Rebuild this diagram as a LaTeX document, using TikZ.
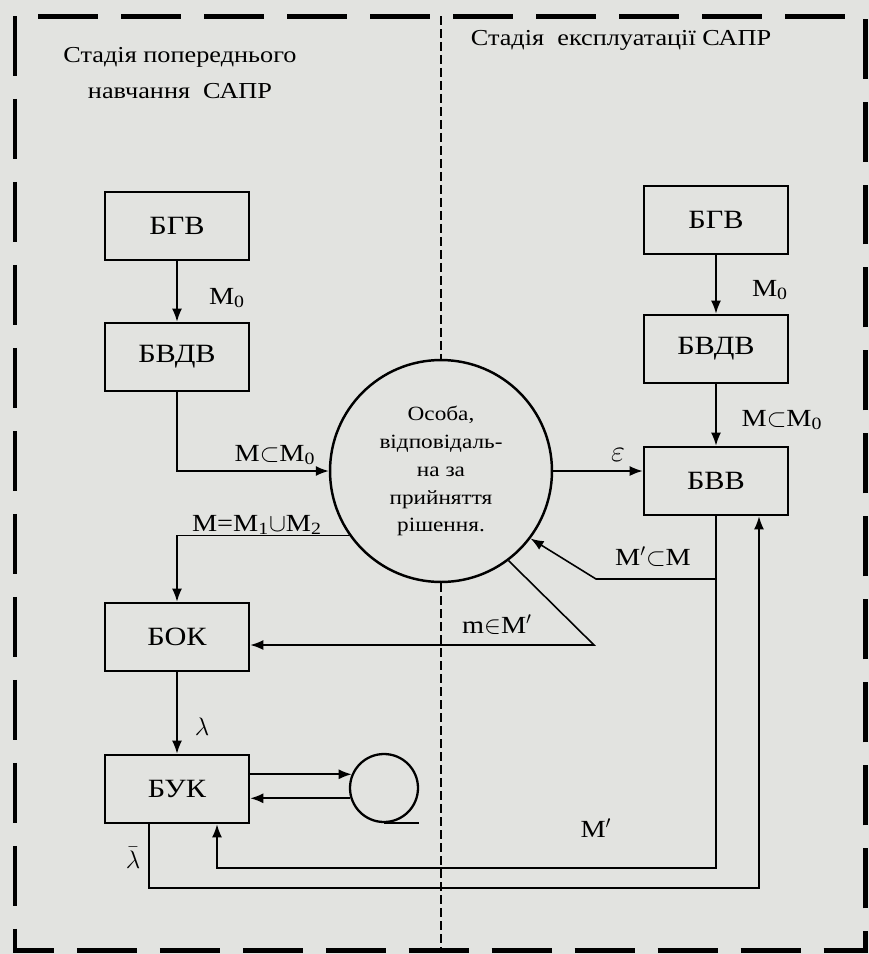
\documentclass[tikz,border=0pt]{standalone}
\usepackage{fontspec}
\setmainfont[FakeStretch=1.15]{Liberation Serif}
\usetikzlibrary{arrows.meta}
\definecolor{paper}{RGB}{226,227,224}

\begin{document}
\begin{tikzpicture}[x=0.02cm,y=-0.02cm,
  blok/.style={draw,line width=1.5pt,minimum width=2.88cm,minimum height=1.36cm,inner sep=0pt,font=\fontsize{15}{17}\selectfont},
  osoba/.style={draw,circle,line width=1.4pt,minimum size=4.44cm,inner sep=0pt,align=center,font=\fontsize{11.5}{15.9}\selectfont},
  petlya/.style={draw,circle,line width=1.3pt,minimum size=1.36cm,inner sep=0pt},
  title/.style={align=center,font=\fontsize{13}{21}\selectfont},
  lab/.style={inner sep=1pt,font=\fontsize{14}{16}\selectfont},
  arr/.style={line width=0.9pt,-{Latex[length=0.26cm,width=0.2cm]}},
  lin/.style={line width=0.9pt},
  ramka/.style={line width=0.1cm,dash pattern=on 1.2cm off 0.46cm},
  midline/.style={line width=0.7pt,dash pattern=on 0.18cm off 0.08cm}]
\fill[paper] (0,0) rectangle (869,954);
\draw[ramka] (15,16) rectangle (865,950);

\node[title] (tleft) at (180,73) {Стадія попереднього\\навчання\ \ САПР};
\node[title] (tright) at (621,40) {Стадія\ \ експлуатації САПР};

% left column
\node[blok] (bgv1) at (177,226) {БГВ};
\node[blok] (bvdv1) at (177,357) {БВДВ};
\node[blok] (bok) at (177,637) {БОК};
\node[blok] (buk) at (177,789) {БУК};
% right column
\node[blok] (bgv2) at (716,220) {БГВ};
\node[blok] (bvdv2) at (716,349) {БВДВ};
\node[blok] (bvv) at (716,481) {БВВ};

\node[osoba] (osoba) at (441,471) {Особа,\\відповідаль-\\на за\\прийняття\\рішення.};
\node[petlya] (petlya) at (384,788) {};

\coordinate (vtop) at (441,16);
\coordinate (vbot) at (441,950);
\draw[midline] (vtop) -- (osoba.north);
\draw[midline] (osoba.south) -- (vbot);

% labels
\node[lab] (m0a) at (227,298) {M\textsubscript{0}};
\node[lab] (m0b) at (770,290) {M\textsubscript{0}};
\node[lab] (mm0a) at (275,455) {M$\subset$M\textsubscript{0}};
\node[lab] (mm0b) at (782,420) {M$\subset$M\textsubscript{0}};
\node[lab] (m12) at (257,525) {M=M\textsubscript{1}$\cup$M\textsubscript{2}};
\node[lab] (eps) at (618,455) {\fontsize{17}{17}\selectfont$\varepsilon$};
\node[lab] (mpm) at (653,557) {M$^\prime$$\subset$M};
\node[lab] (mem) at (497,625) {m$\in$M$^\prime$};
\node[lab] (lam) at (202,727) {$\lambda$};
\node[lab] (lamb) at (133,858) {$\bar{\lambda}$};
\node[lab] (mp) at (596,828) {M$^\prime$};

\foreach \u/\v in {bgv1/bvdv1,bok/buk,bgv2/bvdv2,bvdv2/bvv}
  \draw[arr] (\u) -- (\v);

\draw[arr] (bvdv1.south) |- (osoba.west);
\draw[arr] (osoba.215) -| (bok.north);
\draw[arr] (osoba.east) -- (osoba.east -| bvv.west);

\coordinate (a1) at (596,579);
\coordinate (a2) at (594,645);
\draw[arr] (bvv.south |- a1) -- (a1) -- (osoba.323);
\draw[arr] (osoba.307) -- (a2) -- (a2 -| bok.east);

\coordinate (m2) at (217,868);
\draw[arr] (bvv.south) |- (m2) -- (m2 |- buk.south);
\coordinate (l1) at (149,888);
\coordinate (l2) at (759,888);
\draw[arr] (l1 |- buk.south) -- (l1) -- (l2) -- (l2 |- bvv.south);

\draw[arr] (buk.east |- petlya.157) -- (petlya.157);
\draw[arr] (petlya.197) -- (petlya.197 -| buk.east);
\draw[lin] (petlya.south) -- (petlya.south -| petlya.east);
\end{tikzpicture}
\end{document}
